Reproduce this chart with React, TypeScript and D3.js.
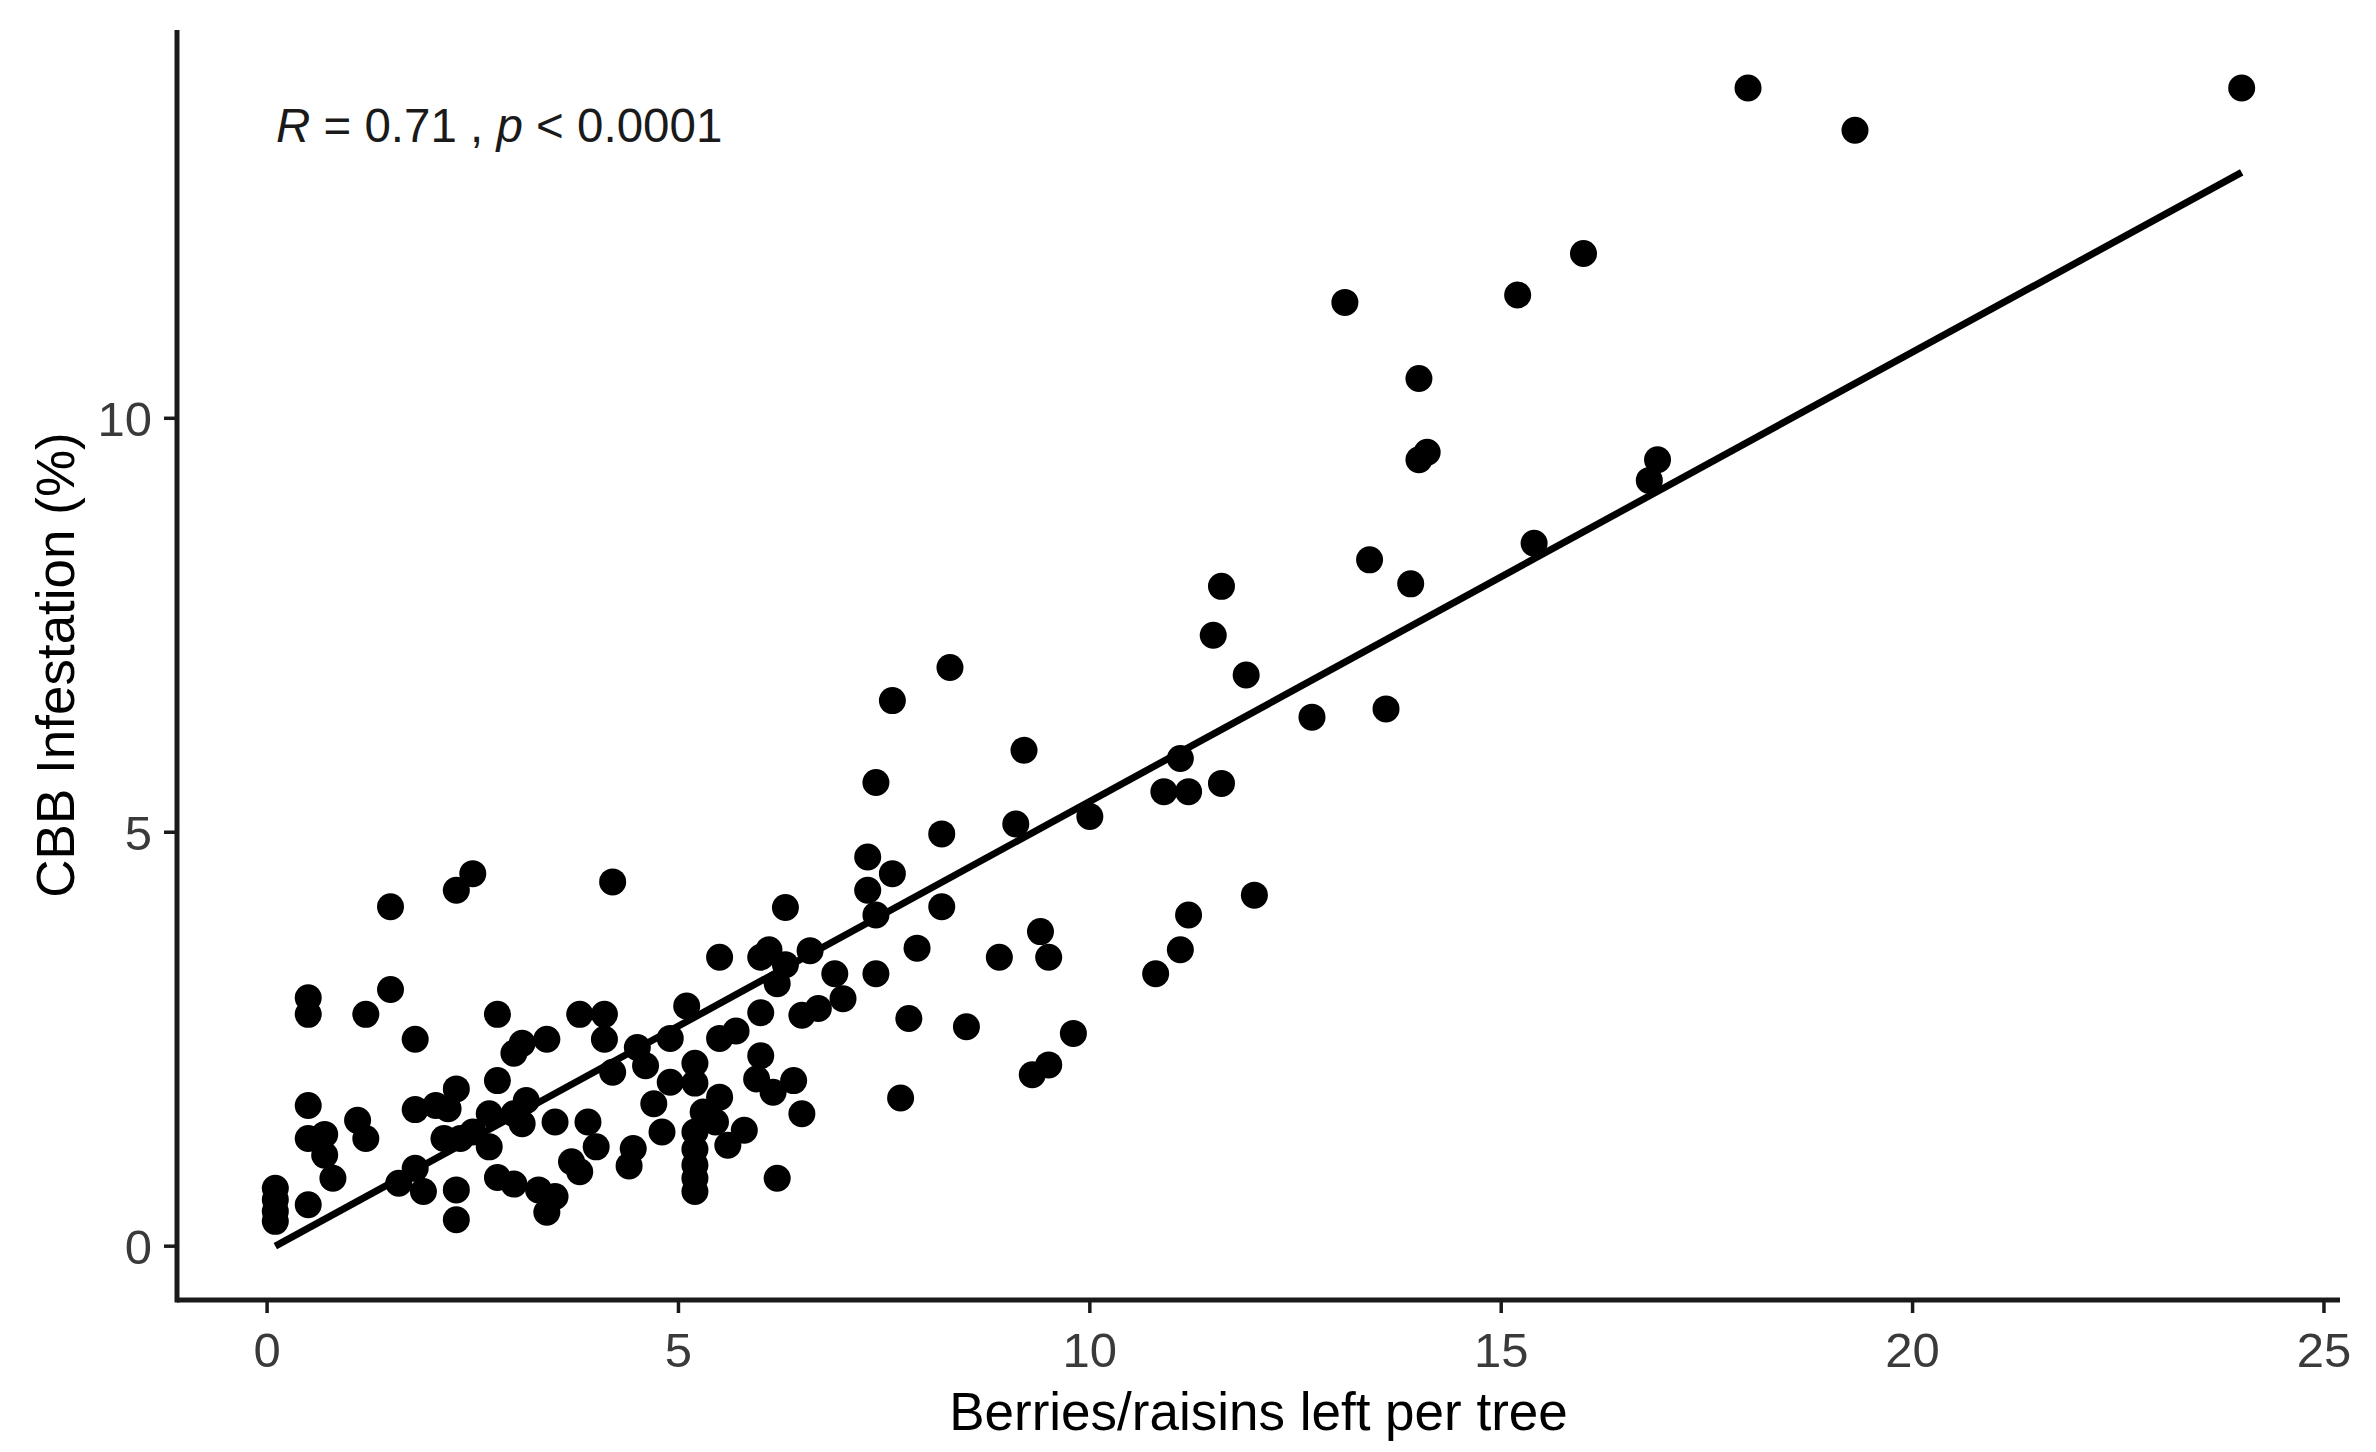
import React from "react";
import * as d3 from "d3";

// Berries/raisins left per tree
const berriesX: number[] = [
  0.1, 0.1, 0.1, 0.1,
  0.5, 0.5, 0.5, 0.7, 0.7, 0.8,
  0.5, 0.5,
  1.1, 1.2, 1.2, 1.5, 1.5,
  1.6, 1.8, 1.9,
  1.8, 2.05, 2.2, 2.3, 1.8,
  2.15, 2.35, 2.5, 2.7, 2.7,
  2.3, 2.3, 2.8, 3.0,
  2.3, 2.5,
  2.8, 2.8, 3.0, 3.1, 3.4,
  3.0, 3.15, 3.1, 3.5, 3.9, 4.0,
  3.3, 3.5, 3.4, 3.7, 3.8,
  3.8, 4.1, 4.1, 4.2, 4.2,
  4.45, 4.4, 4.5, 4.6, 4.7, 4.8, 4.9, 4.9,
  5.1, 5.2, 5.2, 5.2, 5.2, 5.2, 5.2, 5.2,
  5.3, 5.45, 5.5, 5.6, 5.8,
  5.5, 5.7, 5.5,
  6.0, 6.0, 5.95, 6.15, 6.4, 6.5, 6.2,
  6.0, 6.1, 6.3, 6.2, 6.3, 6.6,
  6.5, 6.7, 7.0, 6.9,
  7.4, 7.4, 7.3, 7.6, 7.3, 7.9, 8.2, 7.8, 7.7, 8.5, 8.9, 9.4, 9.5, 9.8, 9.5, 9.3,
  7.4, 7.6, 8.3, 9.2, 9.1, 8.2, 10.0,
  10.9, 11.2, 11.6, 11.1, 12.0, 11.2, 11.1, 10.8,
  11.6, 11.5, 11.9, 12.7, 13.6, 13.4, 13.9,
  13.1, 14.0, 14.1, 14.0, 15.4, 16.9, 16.8, 15.2, 16.0, 18.0, 19.3, 24.0,
];

// CBB Infestation (%)
const infestationY: number[] = [
  0.3, 0.42, 0.56, 0.7,
  0.5, 1.7, 1.3, 1.35, 1.1, 0.82,
  3.0, 2.8,
  1.52, 1.3, 2.8, 3.1, 4.1,
  0.76, 0.94, 0.66,
  1.65, 1.7, 1.66, 1.9, 2.5,
  1.3, 1.3, 1.38, 1.2, 1.6,
  0.68, 0.32, 0.83, 0.75,
  4.3, 4.5,
  2.8, 2.0, 2.33, 2.45, 2.5,
  1.6, 1.76, 1.48, 1.5, 1.5, 1.2,
  0.68, 0.6, 0.41, 1.02, 0.9,
  2.8, 2.8, 2.5, 2.1, 4.4,
  1.18, 0.97, 2.4, 2.18, 1.72, 1.38, 2.51, 1.98,
  2.9, 2.21, 1.97, 1.38, 1.17, 0.98, 0.82, 0.66,
  1.62, 1.5, 1.8, 1.22, 1.4,
  2.51, 2.6, 3.49,
  2.82, 2.3, 2.02, 1.86, 2.0, 1.6, 0.82,
  3.49, 3.58, 3.4, 3.17, 4.09, 3.57,
  2.79, 2.87, 2.99, 3.29,
  3.29, 4.0, 4.3, 4.5, 4.7, 3.6, 4.1, 2.75, 1.79, 2.65, 3.49, 3.8, 3.49, 2.57, 2.19, 2.07,
  5.6, 6.59, 6.99, 5.99, 5.1, 4.98, 5.19,
  5.49, 5.49, 5.59, 5.89, 4.24, 4.0, 3.58, 3.29,
  7.97, 7.38, 6.9, 6.39, 6.49, 8.29, 8.0,
  11.4, 10.48, 9.59, 9.5, 8.49, 9.5, 9.25, 11.49, 11.99, 13.99, 13.48, 13.99,
];

// Linear fit (ends of the regression line)
const fitX: number[] = [0.1, 24.0];
const fitY: number[] = [0.0, 12.97];

const xTicks: number[] = [0, 5, 10, 15, 20, 25];
const yTicks: number[] = [0, 5, 10];

const xLimits: [number, number] = [-1.095, 25.195];
const yLimits: [number, number] = [-0.65, 14.69];

const xTitle = "Berries/raisins left per tree";
const yTitle = "CBB Infestation (%)";

const W = 2376;
const H = 1452;
const panel = { left: 177, right: 2340, top: 30, bottom: 1300 };
const FONT = "'Liberation Sans', Arial, sans-serif";

export default function App() {
  const x = d3.scaleLinear().domain(xLimits).range([panel.left, panel.right]);
  const y = d3.scaleLinear().domain(yLimits).range([panel.bottom, panel.top]);

  const points = berriesX.map((bx, i) => ({ bx, by: infestationY[i] }));
  const fitLine = d3
    .line<number>()
    .x((d) => x(d))
    .y((_, i) => y(fitY[i]));

  const axisColor = "#1a1a1a";
  const tickTextColor = "#3a3a3a";

  return (
    <svg
      width={W}
      height={H}
      viewBox={`0 0 ${W} ${H}`}
      style={{ position: "absolute", left: 0, top: 0, background: "#ffffff" }}
    >
      <rect x={0} y={0} width={W} height={H} fill="#ffffff" />

      {/* points */}
      <g>
        {points.map((p, i) => (
          <circle key={i} cx={x(p.bx)} cy={y(p.by)} r={13.5} fill="#000000" />
        ))}
      </g>

      {/* regression line */}
      <path d={fitLine(fitX) || ""} fill="none" stroke="#000000" strokeWidth={7} />

      {/* axes */}
      <line x1={panel.left} x2={panel.right} y1={panel.bottom} y2={panel.bottom} stroke={axisColor} strokeWidth={5} />
      <line x1={panel.left} x2={panel.left} y1={panel.top} y2={panel.bottom + 2.5} stroke={axisColor} strokeWidth={5} />

      {xTicks.map((t) => (
        <g key={"x" + t}>
          <line x1={x(t)} x2={x(t)} y1={panel.bottom} y2={panel.bottom + 13} stroke={axisColor} strokeWidth={3.5} />
          <text
            x={x(t)}
            y={1367}
            textAnchor="middle"
            fontFamily={FONT}
            fontSize={49}
            fill={tickTextColor}
          >
            {t}
          </text>
        </g>
      ))}

      {yTicks.map((t) => (
        <g key={"y" + t}>
          <line x1={panel.left - 13} x2={panel.left} y1={y(t)} y2={y(t)} stroke={axisColor} strokeWidth={3.5} />
          <text
            x={152}
            y={y(t)}
            dy="0.36em"
            textAnchor="end"
            fontFamily={FONT}
            fontSize={49}
            fill={tickTextColor}
          >
            {t}
          </text>
        </g>
      ))}

      {/* axis titles */}
      <text
        x={(panel.left + panel.right) / 2}
        y={1430}
        textAnchor="middle"
        fontFamily={FONT}
        fontSize={53}
        fill="#000000"
      >
        {xTitle}
      </text>
      <text
        transform={`translate(74, ${(panel.top + panel.bottom) / 2}) rotate(-90)`}
        textAnchor="middle"
        fontFamily={FONT}
        fontSize={53}
        fill="#000000"
      >
        {yTitle}
      </text>

      {/* correlation annotation */}
      <text x={276} y={142} fontFamily={FONT} fontSize={47.5} fill="#1a1a1a">
        <tspan fontStyle="italic">R</tspan>
        <tspan> = 0.71 , </tspan>
        <tspan fontStyle="italic">p</tspan>
        <tspan> &lt; 0.0001</tspan>
      </text>
    </svg>
  );
}
